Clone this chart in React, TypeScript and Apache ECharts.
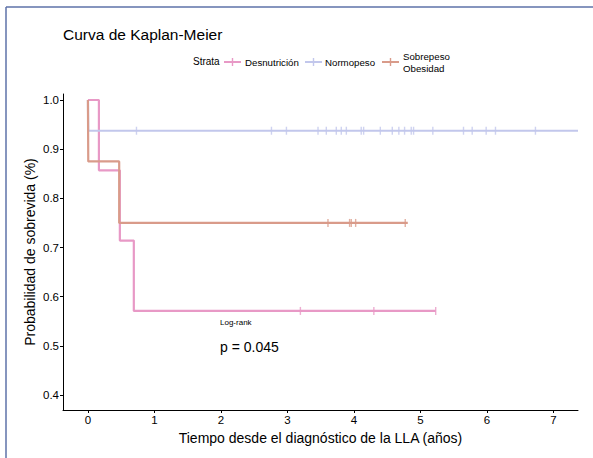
import React, { useEffect, useRef } from "react";
import * as echarts from "echarts";

// ---- Data ----
const xTicks = [0, 1, 2, 3, 4, 5, 6, 7];
const yTicks = [0.4, 0.5, 0.6, 0.7, 0.8, 0.9, 1.0];

const strataNames = ["Desnutrición", "Normopeso", "Sobrepeso\nObesidad"];

// Desnutrición
const desEventTimes = [0, 0.165, 0.48, 0.69];
const desSurv = [1.0, 0.857, 0.714, 0.571];
const desEnd = 5.23;
const desCensor = [3.195, 4.3, 5.23];

// Normopeso
const norEventTimes = [0, 0.005];
const norSurv = [1.0, 0.9375];
const norEnd = 7.37;
const norCensor = [
  0.73, 2.76, 2.985, 3.46, 3.585, 3.735, 3.81, 3.886, 4.11, 4.146, 4.397,
  4.577, 4.676, 4.762, 4.862, 4.897, 5.187, 5.648, 5.779, 5.989, 6.129, 6.73,
];

// Sobrepeso / Obesidad
const sobEventTimes = [0, 0.005, 0.47];
const sobSurv = [1.0, 0.875, 0.75];
const sobEnd = 4.81;
const sobCensor = [3.61, 3.935, 3.96, 4.026, 4.772];

const colors = ["#E899C6", "#C2C7EC", "#D99B8A"];

function stepData(times: number[], surv: number[], end: number) {
  const pts: number[][] = [];
  for (let i = 0; i < times.length; i++) {
    if (i > 0) pts.push([times[i], surv[i - 1]]);
    pts.push([times[i], surv[i]]);
  }
  pts.push([end, surv[surv.length - 1]]);
  return pts;
}

function survAt(times: number[], surv: number[], t: number) {
  let s = surv[0];
  for (let i = 0; i < times.length; i++) if (times[i] <= t) s = surv[i];
  return s;
}

const FONT = "Liberation Sans, Arial, Helvetica, sans-serif";

export default function App() {
  const ref = useRef<HTMLDivElement>(null);
  useEffect(() => {
    if (!ref.current) return;
    const chart = echarts.init(ref.current, undefined, { renderer: "svg" });

    const groups = [
      { name: strataNames[0], t: desEventTimes, s: desSurv, end: desEnd, c: desCensor, color: colors[0] },
      { name: strataNames[1], t: norEventTimes, s: norSurv, end: norEnd, c: norCensor, color: colors[1] },
      { name: strataNames[2], t: sobEventTimes, s: sobSurv, end: sobEnd, c: sobCensor, color: colors[2] },
    ];

    const series: any[] = [];
    groups.forEach((g) => {
      series.push({
        type: "line",
        name: g.name,
        data: stepData(g.t, g.s, g.end),
        showSymbol: false,
        symbol: "none",
        lineStyle: { color: g.color, width: 2.2 },
        itemStyle: { color: g.color },
        silent: true,
        z: 2,
      });
      series.push({
        type: "scatter",
        data: g.c.map((t) => [t, survAt(g.t, g.s, t)]),
        symbol: "rect",
        symbolSize: [1.4, 8],
        itemStyle: { color: g.color },
        silent: true,
        z: 3,
      });
    });

    const legendY = 62;
    const legendItems = [
      { x: 224, tx: 245, label: "Desnutrición", color: colors[0] },
      { x: 305, tx: 325, label: "Normopeso", color: colors[1] },
      { x: 382, tx: 403, label: "Sobrepeso\nObesidad", color: colors[2] },
    ];
    const legendGraphics: any[] = [
      {
        type: "text",
        left: 193,
        top: legendY - 6,
        style: { text: "Strata", font: `10px ${FONT}`, fill: "#000" },
      },
    ];
    legendItems.forEach((it) => {
      legendGraphics.push({
        type: "line",
        shape: { x1: it.x, y1: legendY, x2: it.x + 17, y2: legendY },
        style: { stroke: it.color, lineWidth: 2 },
      });
      legendGraphics.push({
        type: "line",
        shape: { x1: it.x + 8.5, y1: legendY - 4, x2: it.x + 8.5, y2: legendY + 4 },
        style: { stroke: it.color, lineWidth: 1.4 },
      });
      legendGraphics.push({
        type: "text",
        x: it.tx,
        y: legendY,
        style: {
          text: it.label,
          font: `9.7px ${FONT}`,
          fill: "#000",
          verticalAlign: "middle",
          lineHeight: 12,
        },
      });
    });

    chart.setOption({
      animation: false,
      backgroundColor: "#fff",
      grid: { left: 63, right: 15, top: 94, bottom: 48, outerBoundsMode: "none" },
      xAxis: {
        type: "value",
        min: -0.375,
        max: 7.37,
        name: "Tiempo desde el diagnóstico de la LLA (años)",
        nameLocation: "middle",
        nameGap: 19,
        nameTextStyle: { fontFamily: FONT, fontSize: 14, color: "#000" },
        axisLine: { show: true, onZero: false, lineStyle: { color: "#000", width: 1 } },
        axisTick: { show: true, length: 3, customValues: xTicks, lineStyle: { color: "#000" } },
        axisLabel: {
          customValues: xTicks,
          fontFamily: FONT,
          fontSize: 11.5,
          color: "#000",
          margin: 4,
        },
        splitLine: { show: false },
      },
      yAxis: {
        type: "value",
        min: 0.3695,
        max: 1.0122,
        name: "Probabilidad de sobrevida (%)",
        nameLocation: "middle",
        nameGap: 26,
        nameMoveOverlap: false,
        nameRotate: 90,
        nameTextStyle: { fontFamily: FONT, fontSize: 14, color: "#000" },
        axisLine: { show: true, onZero: false, lineStyle: { color: "#000", width: 1 } },
        axisTick: { show: true, length: 3, customValues: yTicks, lineStyle: { color: "#000" } },
        axisLabel: {
          customValues: yTicks,
          formatter: (v: number) => v.toFixed(1),
          fontFamily: FONT,
          fontSize: 11.5,
          color: "#000",
          margin: 4,
        },
        splitLine: { show: false },
      },
      series,
      graphic: [
        // outer frame (left and top edges visible)
        {
          type: "line",
          shape: { x1: 6, y1: 7, x2: 6, y2: 458 },
          style: { stroke: "#5E72A8", lineWidth: 1.5 },
        },
        {
          type: "line",
          shape: { x1: 6, y1: 7, x2: 593, y2: 7 },
          style: { stroke: "#5E72A8", lineWidth: 1.5 },
        },
        {
          type: "text",
          left: 63,
          top: 26,
          style: { text: "Curva de Kaplan-Meier", font: `15.5px ${FONT}`, fill: "#000" },
        },
        ...legendGraphics,
        {
          type: "text",
          left: 220,
          top: 318,
          style: { text: "Log-rank", font: `8px ${FONT}`, fill: "#000" },
        },
        {
          type: "text",
          left: 220,
          top: 340,
          style: { text: "p = 0.045", font: `14px ${FONT}`, fill: "#000" },
        },
      ],
    });

    return () => chart.dispose();
  }, []);

  return (
    <div
      ref={ref}
      style={{ position: "fixed", left: 0, top: 0, width: 593, height: 458 }}
    />
  );
}
